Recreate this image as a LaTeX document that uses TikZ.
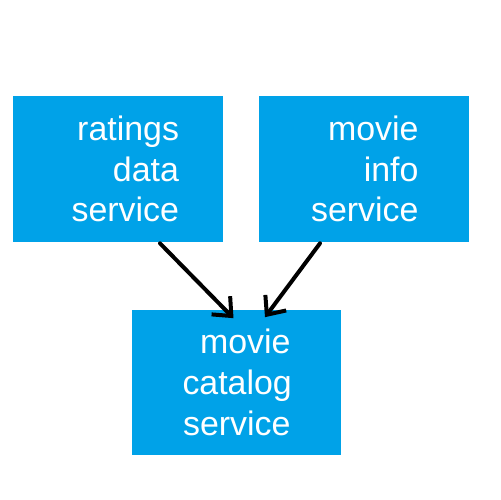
\documentclass[tikz,border=0pt]{standalone}
\usepackage{fontspec}
\setmainfont{Liberation Sans}
\usetikzlibrary{arrows.meta, positioning, calc}
\definecolor{cBox}{RGB}{0,162,232}
\tikzset{
	svcbox/.style={rectangle, fill=cBox, text=white, minimum width=4.2cm, minimum height=2.92cm, inner sep=0pt, align=right, font=\fontsize{19.3}{23.2}\selectfont},
	call/.style  ={-{Straight Barb[length=3mm, width=5.2mm]}, line width=0.08cm, line cap=round, line join=round, black},
}
\begin{document}
\begin{tikzpicture}[x=0.02cm, y=-0.02cm]
	\useasboundingbox (0,0) rectangle (500,500);
	\node[svcbox, text width=2.44cm] (ratings) at (118,169) {ratings\\data\\service};
	\node[svcbox, text width=2.18cm] (info) at (364,169) {movie\\info\\service};
	\node[svcbox, text width=2.16cm] (catalog) at (236.5,382.5) {movie\\catalog\\service};
	% calls into the catalog
	\draw[call] ($(ratings.south)+(42,1)$) -- ($(catalog.north)+(-3,9)$);
	\draw[call] ($(info.south)+(-44,1)$) -- ($(catalog.north)+(28.5,8)$);
\end{tikzpicture}
\end{document}
